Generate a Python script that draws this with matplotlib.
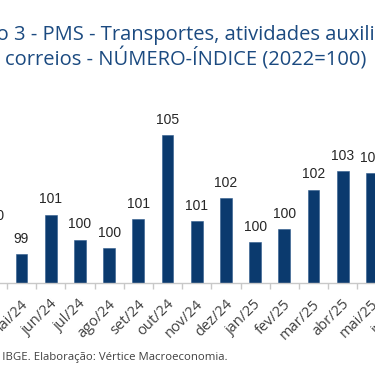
import matplotlib
matplotlib.use("Agg")
import matplotlib.pyplot as plt
from matplotlib.transforms import ScaledTranslation
import numpy as np

# values (abr/24 and jun/25 sit just outside the crop)
meses = ['abr/24', 'mai/24', 'jun/24', 'jul/24', 'ago/24', 'set/24', 'out/24',
         'nov/24', 'dez/24', 'jan/25', 'fev/25', 'mar/25', 'abr/25', 'mai/25', 'jun/25']
indice = [100.4, 99.3, 101.2, 100.0, 99.6, 101.0, 105.0,
          100.9, 102.0, 99.9, 100.5, 102.4, 103.3, 103.2, 103.0]

titulo = 'Gráfico 3 - PMS - Transportes, atividades auxiliares e\ncorreios - NÚMERO-ÍNDICE (2022=100)'
fonte = 'Fonte: IBGE. Elaboração: Vértice Macroeconomia.'

cor_barra = '#0B3A6E'
cor_titulo = '#1B4A80'
cor_texto = '#404040'

W, H = 375, 366
fig = plt.figure(figsize=(W / 100, H / 100), dpi=100)

# the original is a crop of a wider chart, so the axes run past both edges
passo = 29.2          # px per category
x0 = -7.7             # px of the first category centre
base = 282.7          # px (from top) of the category axis
ymin, ymax = 97.93, 106.0
px_por_unid = 1 / 0.048

left = (x0 - 0.5 * passo) / W
width = len(meses) * passo / W
bottom = (H - base) / H
height = (ymax - ymin) * px_por_unid / H
ax = fig.add_axes([left, bottom, width, height])

x = np.arange(len(meses))
ax.bar(x, indice, width=0.4, bottom=0, color=cor_barra, edgecolor='#2F5B8C', linewidth=0.4)
ax.set_xlim(-0.5, len(meses) - 0.5)
ax.set_ylim(ymin, ymax)

for xi, v in zip(x, indice):
  ax.annotate(f'{v:.0f}', (xi, v), xytext=(0, 8), textcoords='offset points',
              ha='center', va='baseline', fontsize=10, color='#262626',
              family='Liberation Sans')

for s in ['top', 'left', 'right']:
  ax.spines[s].set_visible(False)
ax.spines['bottom'].set_color('#C8C8C8')
ax.spines['bottom'].set_linewidth(1)
ax.set_yticks([])

ax.set_xticks(x)
ax.set_xticklabels(meses, rotation=45, ha='right', va='top', rotation_mode='anchor',
                   fontsize=10.5, color=cor_texto, family='Open Sans')
ax.set_xticks(np.arange(len(meses) + 1) - 0.5, minor=True)
ax.tick_params(axis='x', which='major', length=0, pad=10)
ax.tick_params(axis='x', which='minor', length=4, color='#C8C8C8', width=1)
for lab in ax.get_xticklabels():
  lab.set_transform(lab.get_transform() + ScaledTranslation(-1 / 100, 0, fig.dpi_scale_trans))

fig.text(186 / W, 1 - 48 / H, titulo, ha='center', va='center', multialignment='center',
         fontsize=14.5, color=cor_titulo, family='Open Sans', linespacing=1.15)

# source line: "Fonte: " falls off the left edge in the reference
r = fig.canvas.get_renderer()
tmp = fig.text(0, 0, 'Fonte: ', fontsize=8.2, family='Open Sans')
w_fonte = tmp.get_window_extent(r).width
tmp.remove()
fig.text((2 - w_fonte) / W, 1 - 357.5 / H, fonte, ha='left', va='center',
         fontsize=8.2, color=cor_texto, family='Open Sans')

fig.savefig('out.png', dpi=100)
